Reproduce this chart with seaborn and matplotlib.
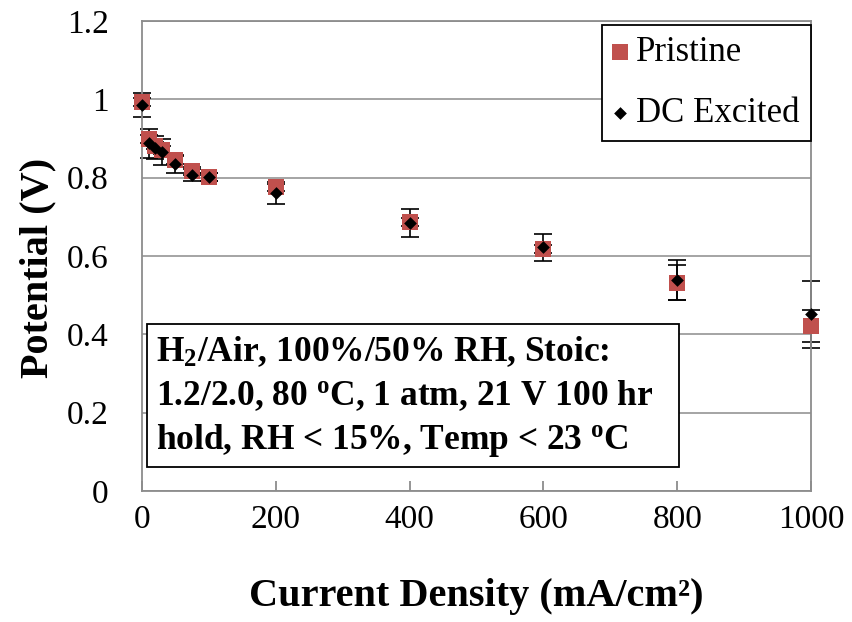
import matplotlib
matplotlib.use("Agg")
import matplotlib.pyplot as plt
import seaborn as sns
import pandas as pd
from matplotlib.patches import Rectangle

# Polarization data (current density in mA/cm2, cell potential in V)
current = [0, 10, 20, 30, 50, 75, 100, 200, 400, 600, 800, 1000]
pristine = [0.994, 0.899, 0.882, 0.870, 0.845, 0.818, 0.802, 0.775, 0.686, 0.617, 0.532, 0.421]
pristine_err = [0.01, 0.01, 0.01, 0.01, 0.01, 0.01, 0.01, 0.01, 0.01, 0.01, 0.045, 0.04]
dc_excited = [0.986, 0.888, 0.877, 0.865, 0.834, 0.806, 0.801, 0.760, 0.684, 0.622, 0.539, 0.451]
dc_err = [0.03, 0.037, 0.03, 0.033, 0.023, 0.015, 0.01, 0.028, 0.035, 0.035, 0.052, 0.085]

series_names = ["Pristine", "DC Excited"]
x_ticks = [0, 200, 400, 600, 800, 1000]
y_ticks = [0, 0.2, 0.4, 0.6, 0.8, 1.0, 1.2]
y_tick_labels = ["0", "0.2", "0.4", "0.6", "0.8", "1", "1.2"]
note_lines = [
    r"H$_2$/Air, 100%/50% RH, Stoic:",
    r"1.2/2.0, 80 $^{\mathrm{o}}$C, 1 atm, 21 V 100 hr",
    r"hold, RH < 15%, Temp < 23 $^{\mathrm{o}}$C",
]

sns.set_theme(style="white")
plt.rcParams["font.family"] = ["Liberation Serif", "DejaVu Serif"]
plt.rcParams["text.color"] = "black"
plt.rcParams["axes.labelcolor"] = "black"
plt.rcParams["xtick.color"] = "black"
plt.rcParams["ytick.color"] = "black"
plt.rcParams["mathtext.fontset"] = "custom"
plt.rcParams["mathtext.rm"] = "Liberation Serif:bold"
plt.rcParams["mathtext.bf"] = "Liberation Serif:bold"
plt.rcParams["mathtext.it"] = "Liberation Serif:bold:italic"

df_p = pd.DataFrame({"x": current, "y": pristine})
df_d = pd.DataFrame({"x": current, "y": dc_excited})

fig = plt.figure(figsize=(8.52, 6.22), dpi=100)
ax = fig.add_axes([142 / 852, 1 - 491 / 622, 669 / 852, 470 / 622])

grid_c = "#8c8c8c"
for v in y_ticks:
    ax.axhline(v, color=grid_c, lw=1.1, zorder=0)

# error bars sit underneath the markers
for yv, err in ((pristine, pristine_err), (dc_excited, dc_err)):
    eb = ax.errorbar(current, yv, yerr=err, fmt="none", ecolor="black",
                     elinewidth=1.2, capsize=6.5, capthick=1.2, zorder=2)
    for art in eb.lines[1] + eb.lines[2]:
        art.set_clip_on(False)

sns.scatterplot(data=df_p, x="x", y="y", marker="s", s=121, color="#C0504D",
                linewidth=0, ax=ax, zorder=3, label=series_names[0], clip_on=False)
sns.scatterplot(data=df_d, x="x", y="y", marker="D", s=42, color="black",
                linewidth=0, ax=ax, zorder=4, label=series_names[1], clip_on=False)

ax.set_xlim(0, 1000)
ax.set_ylim(0, 1.2)
ax.set_xticks(x_ticks)
ax.set_xticklabels([str(t) for t in x_ticks])
ax.set_yticks(y_ticks)
ax.set_yticklabels(y_tick_labels)
ax.tick_params(axis="x", direction="in", length=7, width=1.3, color=grid_c,
               labelsize=24, pad=10, bottom=True, labelcolor="black")
ax.tick_params(axis="y", length=0, labelsize=24, pad=24, labelcolor="black")
for s in ax.spines.values():
    s.set_color(grid_c)
    s.set_linewidth(1.3)

ax.set_xlabel("Current Density (mA/cm²)", fontsize=29, fontweight="bold", labelpad=31)
ax.set_ylabel("Potential (V)", fontsize=29, fontweight="bold")
ax.yaxis.set_label_coords(-0.128, 0.475)

leg = ax.legend(loc="upper right", bbox_to_anchor=(1.0, 0.992), borderaxespad=0,
                fontsize=25, frameon=True, fancybox=False, framealpha=1,
                edgecolor="black", labelspacing=0.8, handlelength=0.35,
                handletextpad=0.3, borderpad=0.33)
leg.get_frame().set_linewidth(1.3)
leg.set_zorder(6)

# annotation box with the test conditions
box = Rectangle(((147 - 142) / 669, (491 - 467) / 470),
                (679 - 147) / 669, (467 - 324) / 470, transform=ax.transAxes,
                facecolor="white", edgecolor="black", lw=1.3, zorder=5)
ax.add_patch(box)
baselines = [361, 405, 449]
for line, b in zip(note_lines, baselines):
    ax.text((156 - 142) / 669, (491 - b) / 470, line, transform=ax.transAxes,
            fontsize=25.5, fontweight="bold", ha="left", va="baseline", zorder=6)

fig.savefig("out.png", dpi=100)
